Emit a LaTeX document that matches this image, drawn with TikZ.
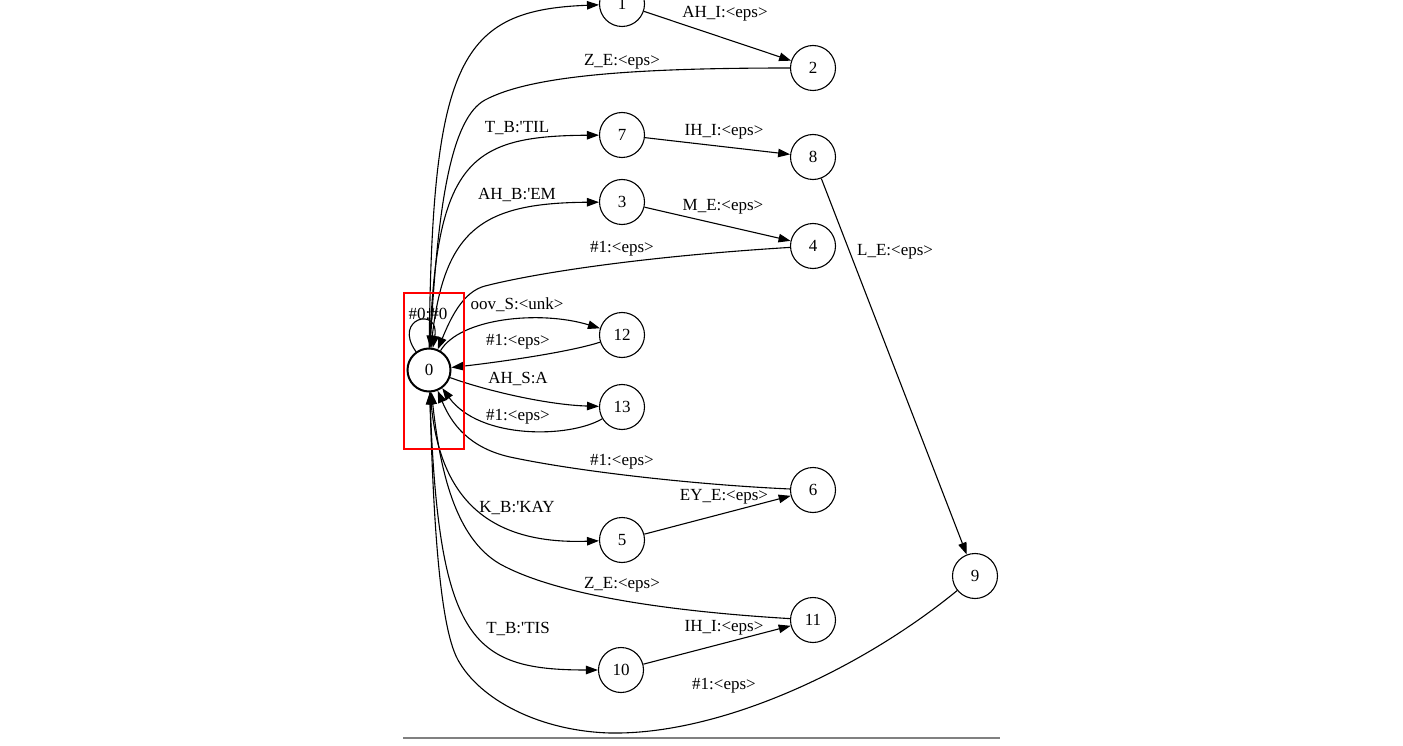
\documentclass[tikz,border=0pt]{standalone}
\usepackage{fontspec}
\setmainfont{Liberation Serif}
\usetikzlibrary{arrows.meta}
\tikzset{
  st/.style={circle,draw,line width=1.1pt,minimum size=45pt,inner sep=0pt,font=\fontsize{17}{20}\selectfont},
  init/.style={st,line width=2pt,minimum size=43pt},
  edge/.style={line width=1.1pt,-{Triangle[length=12pt,width=8.5pt]}},
  lbl/.style={inner sep=0pt,font=\fontsize{17}{20}\selectfont},
}
\newcommand{\q}{\textquotesingle}
\begin{document}
\begin{tikzpicture}[x=1pt,y=-1pt]
\useasboundingbox (0,0) rectangle (1403,746);
\clip (0,0) rectangle (1403,746);
% states
\node[init] (n0) at (429,370) {0};
\node[st] (n1) at (622,4) {1};
\node[st] (n2) at (813,68) {2};
\node[st] (n7) at (622,135) {7};
\node[st] (n8) at (813,157) {8};
\node[st] (n3) at (622,202) {3};
\node[st] (n4) at (813,246) {4};
\node[st] (n12) at (622,335) {12};
\node[st] (n13) at (622,407) {13};
\node[st] (n6) at (813,490) {6};
\node[st] (n5) at (622,540) {5};
\node[st] (n9) at (975,576) {9};
\node[st] (n11) at (813,620) {11};
\node[st] (n10) at (621,670) {10};
% edges
\draw[edge] (n0) .. controls (432,60) and (460,10) .. (n1);
\draw[edge] (n1) -- (n2);
\draw[edge] (n2) .. controls (630,68) and (530,76) .. (485,100) .. controls (452,118) and (438,200) .. (n0);
\draw[edge] (n0) .. controls (436,160) and (470,136) .. (n7);
\draw[edge] (n7) -- (n8);
\draw[edge] (n0) .. controls (442,230) and (480,203) .. (n3);
\draw[edge] (n3) -- (n4);
\draw[edge] (n4) .. controls (650,256) and (540,272) .. (485,286) .. controls (462,292) and (450,320) .. (n0);
\draw[edge] (n8) -- (n9);
\draw[edge] (n0) .. controls (392,318) and (440,306) .. (n0);
\draw[edge] (n0) .. controls (460,318) and (540,310) .. (n12);
\draw[edge] (n12) .. controls (570,352) and (500,362) .. (n0);
\draw[edge] (n0) .. controls (490,392) and (550,405) .. (n13);
\draw[edge] (n13) .. controls (570,438) and (480,440) .. (n0);
\draw[edge] (n6) .. controls (700,485) and (580,472) .. (510,457) .. controls (470,448) and (452,425) .. (n0);
\draw[edge] (n0) .. controls (436,490) and (480,545) .. (n5);
\draw[edge] (n5) -- (n6);
\draw[edge] (n11) .. controls (680,612) and (560,597) .. (500,564) .. controls (455,538) and (440,470) .. (n0);
\draw[edge] (n0) .. controls (438,640) and (470,670) .. (n10);
\draw[edge] (n10) -- (n11);
\draw[edge] (n9) .. controls (860,670) and (720,735) .. (610,733) .. controls (540,731) and (480,700) .. (458,660) .. controls (438,624) and (433,500) .. (n0);
% labels
\node[lbl] (l12) at (725,14) {AH\_I:<eps>};
\node[lbl] (l20) at (622,62) {Z\_E:<eps>};
\node[lbl] (l07) at (517,128) {T\_B:\q TIL};
\node[lbl] (l78) at (724,132) {IH\_I:<eps>};
\node[lbl] (l03) at (517,195) {AH\_B:\q EM};
\node[lbl] (l34) at (723,207) {M\_E:<eps>};
\node[lbl] (l40) at (622,249) {\#1:<eps>};
\node[lbl,anchor=west] (l89) at (857,252) {L\_E:<eps>};
\node[lbl] (l00) at (428,314) {\#0:\#0};
\node[lbl] (l012) at (517,305) {oov\_S:<unk>};
\node[lbl] (l120) at (518,342) {\#1:<eps>};
\node[lbl] (l013) at (518,379) {AH\_S:A};
\node[lbl] (l130) at (518,417) {\#1:<eps>};
\node[lbl] (l60) at (622,462) {\#1:<eps>};
\node[lbl] (l56) at (724,497) {EY\_E:<eps>};
\node[lbl] (l05) at (517,508) {K\_B:\q KAY};
\node[lbl] (l110) at (622,585) {Z\_E:<eps>};
\node[lbl] (l010) at (518,629) {T\_B:\q TIS};
\node[lbl] (l1011) at (724,628) {IH\_I:<eps>};
\node[lbl] (l90) at (724,686) {\#1:<eps>};
% highlight box and base line
\draw[red,line width=2.5pt] (404,293) rectangle (464,449);
\draw[gray,line width=1.5pt] (403,738) -- (1000,738);
\end{tikzpicture}
\end{document}
